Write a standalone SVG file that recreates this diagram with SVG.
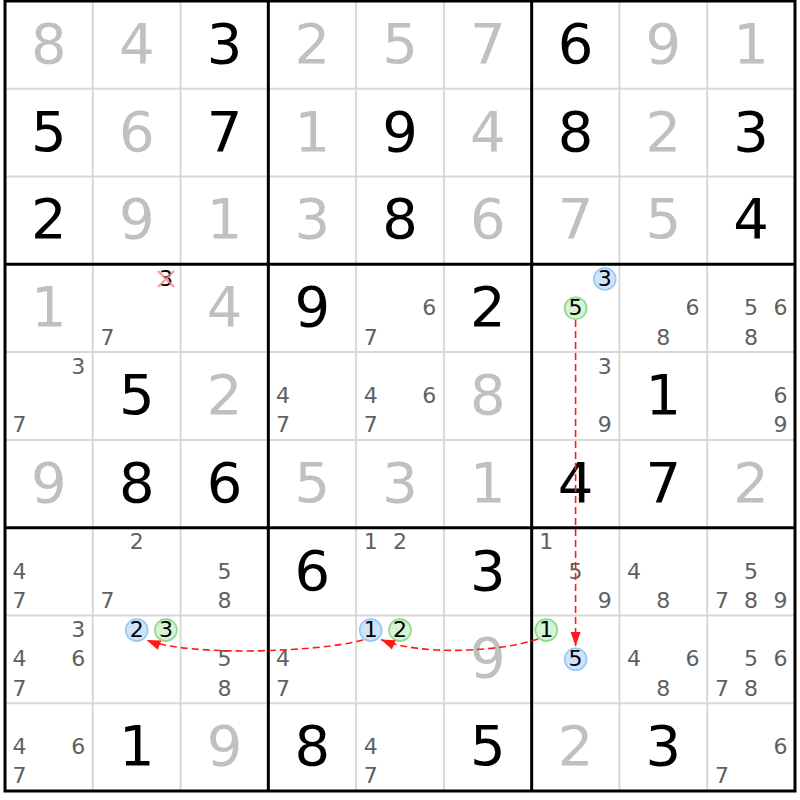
<svg xmlns="http://www.w3.org/2000/svg" width="800" height="800" viewBox="0 0 800 800">
<style>
text{font-family:"DejaVu Sans","Noto Sans",sans-serif;text-anchor:middle}
.g{font-size:56px;fill:#000}
.s{font-size:56px;fill:#c0c0c0}
.c{font-size:22px;fill:#606060}
.k{font-size:22px;fill:#000}
.thin{stroke:#d8d8d8;stroke-width:2}
.thick{stroke:#000;stroke-width:3}
.cb{fill:#cfe4fb;stroke:#96c8f8;stroke-width:1.6}
.cg{fill:#d6f3d6;stroke:#8cdc8c;stroke-width:1.6}
.lk{fill:none;stroke:#ff1a1a;stroke-width:1.6;stroke-dasharray:7 4}
.x{stroke:#ff8080;stroke-width:2.2;stroke-opacity:0.8}
</style>
<defs>
<marker id="ah" markerUnits="userSpaceOnUse" markerWidth="16" markerHeight="12" viewBox="0 -6 15 12" refX="14" refY="0" orient="auto">
<path d="M0,-5 L14,0 L0,5 z" fill="#ff1a1a"/>
</marker>
</defs>
<rect x="0" y="0" width="800" height="800" fill="#fff"/>
<g id="grid">
<path class="thin" d="M92.78,1V791M180.56,1V791M356.11,1V791M443.89,1V791M619.44,1V791M707.22,1V791M5,88.78H795M5,176.56H795M5,352.11H795M5,439.89H795M5,615.44H795M5,703.22H795"/>
<path class="thick" d="M268.33,1V791M531.67,1V791M5,264.33H795M5,527.67H795"/>
<rect class="thick" x="5" y="1" width="790" height="790" fill="none"/>
</g>
<g id="r1c1"><text class="s" x="48.9" y="62.9">8</text></g>
<g id="r1c2"><text class="s" x="136.7" y="62.9">4</text></g>
<g id="r1c3"><text class="g" x="224.5" y="62.9">3</text></g>
<g id="r1c4"><text class="s" x="312.2" y="62.9">2</text></g>
<g id="r1c5"><text class="s" x="400" y="62.9">5</text></g>
<g id="r1c6"><text class="s" x="487.8" y="62.9">7</text></g>
<g id="r1c7"><text class="g" x="575.6" y="62.9">6</text></g>
<g id="r1c8"><text class="s" x="663.3" y="62.9">9</text></g>
<g id="r1c9"><text class="s" x="751.1" y="62.9">1</text></g>
<g id="r2c1"><text class="g" x="48.9" y="150.7">5</text></g>
<g id="r2c2"><text class="s" x="136.7" y="150.7">6</text></g>
<g id="r2c3"><text class="g" x="224.5" y="150.7">7</text></g>
<g id="r2c4"><text class="s" x="312.2" y="150.7">1</text></g>
<g id="r2c5"><text class="g" x="400" y="150.7">9</text></g>
<g id="r2c6"><text class="s" x="487.8" y="150.7">4</text></g>
<g id="r2c7"><text class="g" x="575.6" y="150.7">8</text></g>
<g id="r2c8"><text class="s" x="663.3" y="150.7">2</text></g>
<g id="r2c9"><text class="g" x="751.1" y="150.7">3</text></g>
<g id="r3c1"><text class="g" x="48.9" y="238.4">2</text></g>
<g id="r3c2"><text class="s" x="136.7" y="238.4">9</text></g>
<g id="r3c3"><text class="s" x="224.5" y="238.4">1</text></g>
<g id="r3c4"><text class="s" x="312.2" y="238.4">3</text></g>
<g id="r3c5"><text class="g" x="400" y="238.4">8</text></g>
<g id="r3c6"><text class="s" x="487.8" y="238.4">6</text></g>
<g id="r3c7"><text class="s" x="575.6" y="238.4">7</text></g>
<g id="r3c8"><text class="s" x="663.3" y="238.4">5</text></g>
<g id="r3c9"><text class="g" x="751.1" y="238.4">4</text></g>
<g id="r4c1"><text class="s" x="48.9" y="326.2">1</text></g>
<g id="r4c2"><text class="k" x="165.9" y="286">3</text><path class="x" d="M158,271L174,287M174,271L158,287"/><text class="c" x="107.4" y="344.5">7</text></g>
<g id="r4c3"><text class="s" x="224.5" y="326.2">4</text></g>
<g id="r4c4"><text class="g" x="312.2" y="326.2">9</text></g>
<g id="r4c5"><text class="c" x="429.3" y="315.2">6</text><text class="c" x="370.7" y="344.5">7</text></g>
<g id="r4c6"><text class="g" x="487.8" y="326.2">2</text></g>
<g id="r4c7"><circle class="cb" cx="604.8" cy="279" r="11"/><text class="k" x="604.8" y="286">3</text><circle class="cg" cx="575.6" cy="308.2" r="11"/><text class="k" x="575.6" y="315.2">5</text></g>
<g id="r4c8"><text class="c" x="692.6" y="315.2">6</text><text class="c" x="663.3" y="344.5">8</text></g>
<g id="r4c9"><text class="c" x="751.1" y="315.2">5</text><text class="c" x="780.4" y="315.2">6</text><text class="c" x="751.1" y="344.5">8</text></g>
<g id="r5c1"><text class="c" x="78.2" y="373.7">3</text><text class="c" x="19.6" y="432.3">7</text></g>
<g id="r5c2"><text class="g" x="136.7" y="414">5</text></g>
<g id="r5c3"><text class="s" x="224.5" y="414">2</text></g>
<g id="r5c4"><text class="c" x="283" y="403">4</text><text class="c" x="283" y="432.3">7</text></g>
<g id="r5c5"><text class="c" x="370.7" y="403">4</text><text class="c" x="429.3" y="403">6</text><text class="c" x="370.7" y="432.3">7</text></g>
<g id="r5c6"><text class="s" x="487.8" y="414">8</text></g>
<g id="r5c7"><text class="c" x="604.8" y="373.7">3</text><text class="c" x="604.8" y="432.3">9</text></g>
<g id="r5c8"><text class="g" x="663.3" y="414">1</text></g>
<g id="r5c9"><text class="c" x="780.4" y="403">6</text><text class="c" x="780.4" y="432.3">9</text></g>
<g id="r6c1"><text class="s" x="48.9" y="501.8">9</text></g>
<g id="r6c2"><text class="g" x="136.7" y="501.8">8</text></g>
<g id="r6c3"><text class="g" x="224.5" y="501.8">6</text></g>
<g id="r6c4"><text class="s" x="312.2" y="501.8">5</text></g>
<g id="r6c5"><text class="s" x="400" y="501.8">3</text></g>
<g id="r6c6"><text class="s" x="487.8" y="501.8">1</text></g>
<g id="r6c7"><text class="g" x="575.6" y="501.8">4</text></g>
<g id="r6c8"><text class="g" x="663.3" y="501.8">7</text></g>
<g id="r6c9"><text class="s" x="751.1" y="501.8">2</text></g>
<g id="r7c1"><text class="c" x="19.6" y="578.6">4</text><text class="c" x="19.6" y="607.8">7</text></g>
<g id="r7c2"><text class="c" x="136.7" y="549.3">2</text><text class="c" x="107.4" y="607.8">7</text></g>
<g id="r7c3"><text class="c" x="224.5" y="578.6">5</text><text class="c" x="224.5" y="607.8">8</text></g>
<g id="r7c4"><text class="g" x="312.2" y="589.6">6</text></g>
<g id="r7c5"><text class="c" x="370.7" y="549.3">1</text><text class="c" x="400" y="549.3">2</text></g>
<g id="r7c6"><text class="g" x="487.8" y="589.6">3</text></g>
<g id="r7c7"><text class="c" x="546.3" y="549.3">1</text><text class="c" x="575.6" y="578.6">5</text><text class="c" x="604.8" y="607.8">9</text></g>
<g id="r7c8"><text class="c" x="634.1" y="578.6">4</text><text class="c" x="663.3" y="607.8">8</text></g>
<g id="r7c9"><text class="c" x="751.1" y="578.6">5</text><text class="c" x="721.9" y="607.8">7</text><text class="c" x="751.1" y="607.8">8</text><text class="c" x="780.4" y="607.8">9</text></g>
<g id="r8c1"><text class="c" x="78.2" y="637.1">3</text><text class="c" x="19.6" y="666.3">4</text><text class="c" x="78.2" y="666.3">6</text><text class="c" x="19.6" y="695.6">7</text></g>
<g id="r8c2"><circle class="cb" cx="136.7" cy="630.1" r="11"/><text class="k" x="136.7" y="637.1">2</text><circle class="cg" cx="165.9" cy="630.1" r="11"/><text class="k" x="165.9" y="637.1">3</text></g>
<g id="r8c3"><text class="c" x="224.5" y="666.3">5</text><text class="c" x="224.5" y="695.6">8</text></g>
<g id="r8c4"><text class="c" x="283" y="666.3">4</text><text class="c" x="283" y="695.6">7</text></g>
<g id="r8c5"><circle class="cb" cx="370.7" cy="630.1" r="11"/><text class="k" x="370.7" y="637.1">1</text><circle class="cg" cx="400" cy="630.1" r="11"/><text class="k" x="400" y="637.1">2</text></g>
<g id="r8c6"><text class="s" x="487.8" y="677.3">9</text></g>
<g id="r8c7"><circle class="cg" cx="546.3" cy="630.1" r="11"/><text class="k" x="546.3" y="637.1">1</text><circle class="cb" cx="575.6" cy="659.3" r="11"/><text class="k" x="575.6" y="666.3">5</text></g>
<g id="r8c8"><text class="c" x="634.1" y="666.3">4</text><text class="c" x="692.6" y="666.3">6</text><text class="c" x="663.3" y="695.6">8</text></g>
<g id="r8c9"><text class="c" x="751.1" y="666.3">5</text><text class="c" x="780.4" y="666.3">6</text><text class="c" x="721.9" y="695.6">7</text><text class="c" x="751.1" y="695.6">8</text></g>
<g id="r9c1"><text class="c" x="19.6" y="754.1">4</text><text class="c" x="78.2" y="754.1">6</text><text class="c" x="19.6" y="783.4">7</text></g>
<g id="r9c2"><text class="g" x="136.7" y="765.1">1</text></g>
<g id="r9c3"><text class="s" x="224.5" y="765.1">9</text></g>
<g id="r9c4"><text class="g" x="312.2" y="765.1">8</text></g>
<g id="r9c5"><text class="c" x="370.7" y="754.1">4</text><text class="c" x="370.7" y="783.4">7</text></g>
<g id="r9c6"><text class="g" x="487.8" y="765.1">5</text></g>
<g id="r9c7"><text class="s" x="575.6" y="765.1">2</text></g>
<g id="r9c8"><text class="g" x="663.3" y="765.1">3</text></g>
<g id="r9c9"><text class="c" x="780.4" y="754.1">6</text><text class="c" x="721.9" y="783.4">7</text></g>
<g id="links">
<path class="lk" d="M575.6,320 V646" marker-end="url(#ah)"/>
<path class="lk" d="M538,639 C500,652 420,656 381,639.5" marker-end="url(#ah)"/>
<path class="lk" d="M363,640 C320,652 190,657 146.5,640" marker-end="url(#ah)"/>
</g>
</svg>
